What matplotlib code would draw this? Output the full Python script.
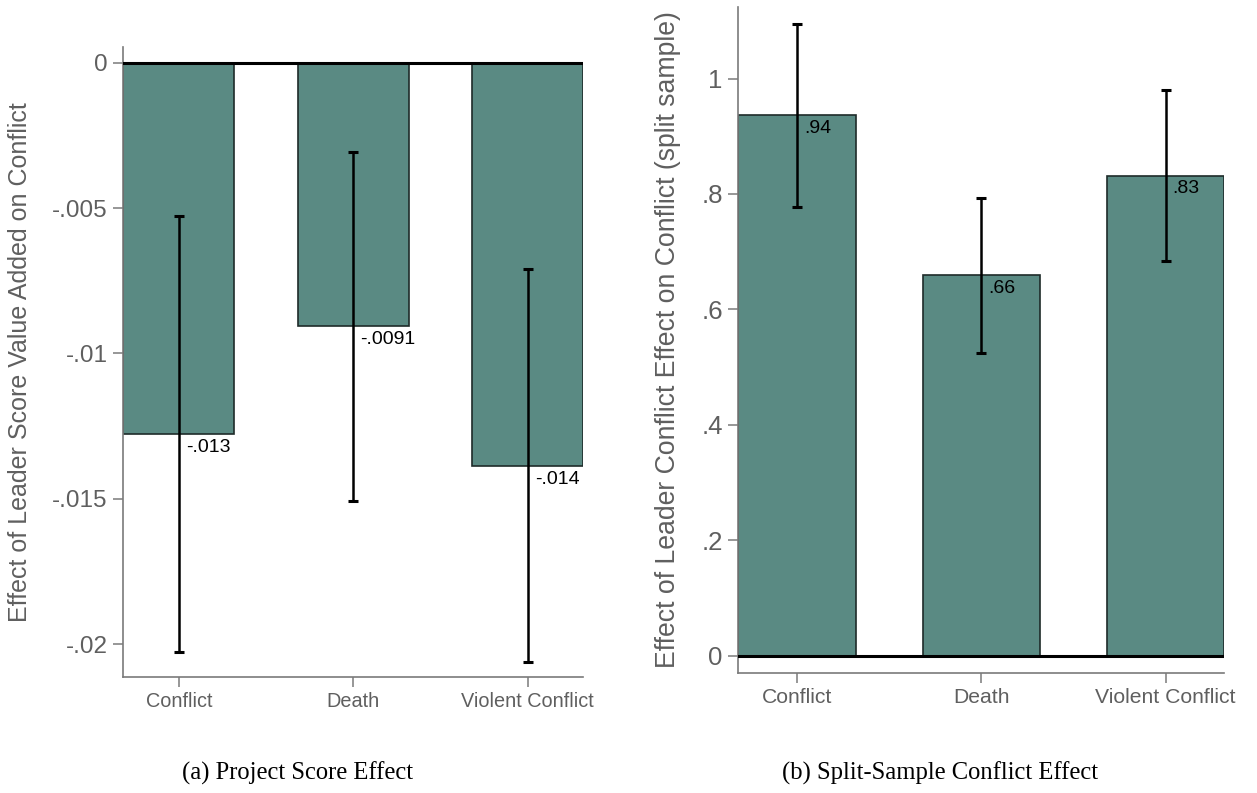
import matplotlib
matplotlib.use("Agg")
import matplotlib.pyplot as plt
from matplotlib.ticker import FuncFormatter
import numpy as np

# Outcomes shown on the x axis of both panels
categories = ["Conflict", "Death", "Violent Conflict"]

# Panel (a): project score effect
score_effect = [-0.01277, -0.00907, -0.01386]
score_ci_half = [0.00750, 0.00600, 0.00675]
score_labels = ["-.013", "-.0091", "-.014"]
score_yticks = [0, -0.005, -0.01, -0.015, -0.02]

# Panel (b): split-sample conflict effect
split_effect = [0.936, 0.659, 0.832]
split_ci_half = [0.1585, 0.134, 0.1485]
split_labels = [".94", ".66", ".83"]
split_yticks = [0, 0.2, 0.4, 0.6, 0.8, 1.0]

BAR_COLOR = "#5a8a83"
EDGE_COLOR = "#1e2b29"
GREY = "#5f5f5f"
AXIS_GREY = "#7a7a7a"
SANS = ["Liberation Sans", "DejaVu Sans"]
SERIF = ["Liberation Serif", "DejaVu Serif"]


def stata_fmt(v, _pos=None):
    if abs(v) < 1e-12:
        return "0"
    return ("%g" % v).replace("0.", ".")


def draw_panel(ax, values, ci_half, labels, yticks, ylim, ylabel, caption,
               cap_x, scale, labelpad):
    x = np.arange(len(categories))
    ax.bar(x, values, width=0.636, color=BAR_COLOR, edgecolor=EDGE_COLOR,
           linewidth=1.2, zorder=2)
    ax.axhline(0, color="black", lw=2.2, zorder=3)
    ax.errorbar(x, values, yerr=ci_half, fmt="none", ecolor="black",
                elinewidth=1.8, capsize=3.8, capthick=2.2, zorder=4)
    for xi, v, lab in zip(x, values, labels):
        ax.annotate(lab, xy=(xi, v), xytext=(5, -3.5),
                    textcoords="offset points", ha="left", va="top",
                    fontsize=14, family=SANS, color="black", zorder=5)
    ax.set_xlim(-0.318, 2.318)
    ax.set_ylim(*ylim)
    ax.set_xticks(x)
    ax.set_xticklabels(categories, family=SANS, fontsize=14.3 * scale,
                       color=GREY)
    ax.set_yticks(yticks)
    ax.yaxis.set_major_formatter(FuncFormatter(stata_fmt))
    for t in ax.get_yticklabels():
        t.set_family(SANS)
        t.set_fontsize(17.5 * scale)
        t.set_color(GREY)
    ax.tick_params(axis="both", direction="out", length=7.2, width=1.1,
                   color=AXIS_GREY)
    ax.tick_params(axis="x", pad=4)
    ax.tick_params(axis="y", pad=4)
    for side in ("top", "right"):
        ax.spines[side].set_visible(False)
    for side in ("left", "bottom"):
        ax.spines[side].set_color(AXIS_GREY)
        ax.spines[side].set_linewidth(1.2)
    ax.set_ylabel(ylabel, family=SANS, fontsize=18 * scale, color=GREY,
                  labelpad=labelpad)
    ax.figure.text(cap_x, 0.0252, caption, ha="center", va="center",
                   family=SERIF, fontsize=17.7, color="black")


fig = plt.figure(figsize=(12.57, 7.93), dpi=100)
ax1 = fig.add_axes([0.0981, 0.1467, 0.3660, 0.7937])
ax2 = fig.add_axes([0.5874, 0.1517, 0.3866, 0.8395])

draw_panel(ax1, score_effect, score_ci_half, score_labels, score_yticks,
           (-0.02111, 0.000526),
           "Effect of Leader Score Value Added on Conflict",
           "(a) Project Score Effect", 298 / 1257, 1.0, 14.5)
draw_panel(ax2, split_effect, split_ci_half, split_labels, split_yticks,
           (-0.02944, 1.124),
           "Effect of Leader Conflict Effect on Conflict (split sample)",
           "(b) Split-Sample Conflict Effect", 940 / 1257, 1.065, 14.5)

fig.savefig("out.png", dpi=100)
